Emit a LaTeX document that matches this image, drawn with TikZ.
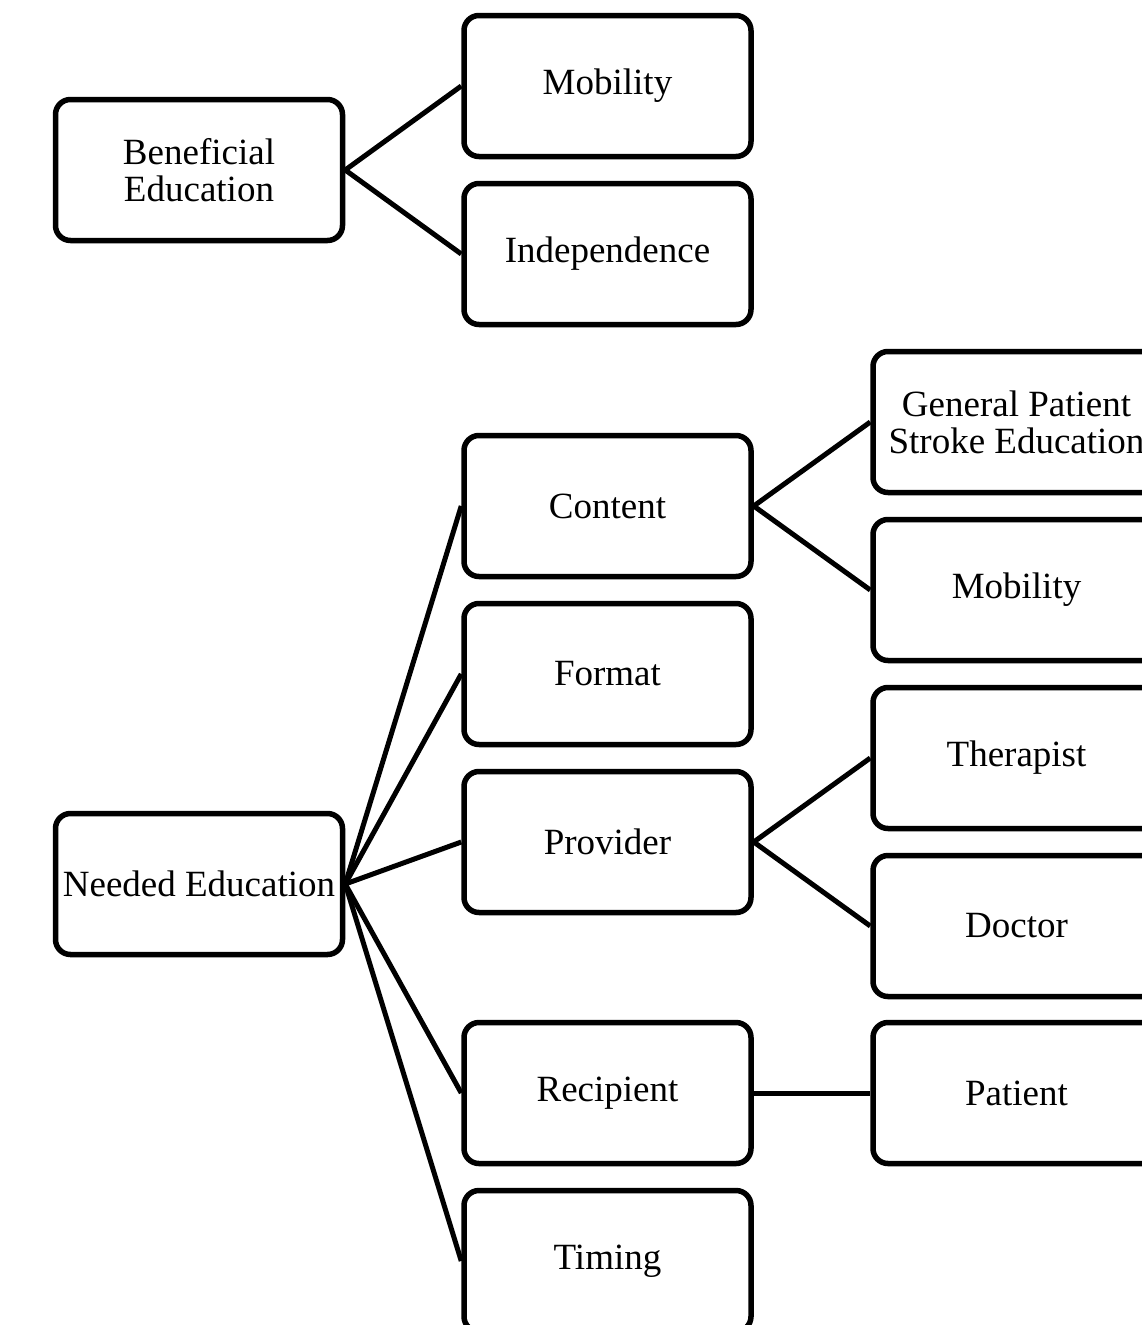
\documentclass[tikz,border=0pt]{standalone}
\usepackage{fontspec}
\setmainfont{Liberation Serif}
\begin{document}
\begin{tikzpicture}[x=1pt,y=-1pt,
  box/.style={draw=black,line width=5.5pt,rounded corners=15pt,minimum width=287pt,minimum height=141pt,align=center,inner sep=0pt,font=\fontsize{37}{37}\selectfont,fill=white},
  link/.style={line width=5pt,black}]
\useasboundingbox (0,0) rectangle (1141,1325);
\node[box] (ben) at (199,170) {Beneficial\\Education};
\node[box] (mob1) at (607.5,86) {Mobility};
\node[box] (ind) at (607.5,254) {Independence};
\node[box] (need) at (199,884) {Needed Education};
\node[box] (cont) at (607.5,506) {Content};
\node[box] (form) at (607.5,674) {Format};
\node[box] (prov) at (607.5,842) {Provider};
\node[box] (reci) at (607.5,1093) {Recipient};
\node[box] (timi) at (607.5,1261) {Timing};
\node[box] (gen) at (1016.5,422) {General Patient\\Stroke Education};
\node[box] (mob2) at (1016.5,590) {Mobility};
\node[box] (ther) at (1016.5,758) {Therapist};
\node[box] (doc) at (1016.5,926) {Doctor};
\node[box] (pat) at (1016.5,1093) {Patient};
\draw[link] (ben.east) -- (mob1.west);
\draw[link] (ben.east) -- (ind.west);
\foreach \c in {cont,form,prov,reci,timi}{\draw[link] (need.east) -- (\c.west);}
\draw[link] (cont.east) -- (gen.west);
\draw[link] (cont.east) -- (mob2.west);
\draw[link] (prov.east) -- (ther.west);
\draw[link] (prov.east) -- (doc.west);
\draw[link] (reci.east) -- (pat.west);
\end{tikzpicture}
\end{document}
